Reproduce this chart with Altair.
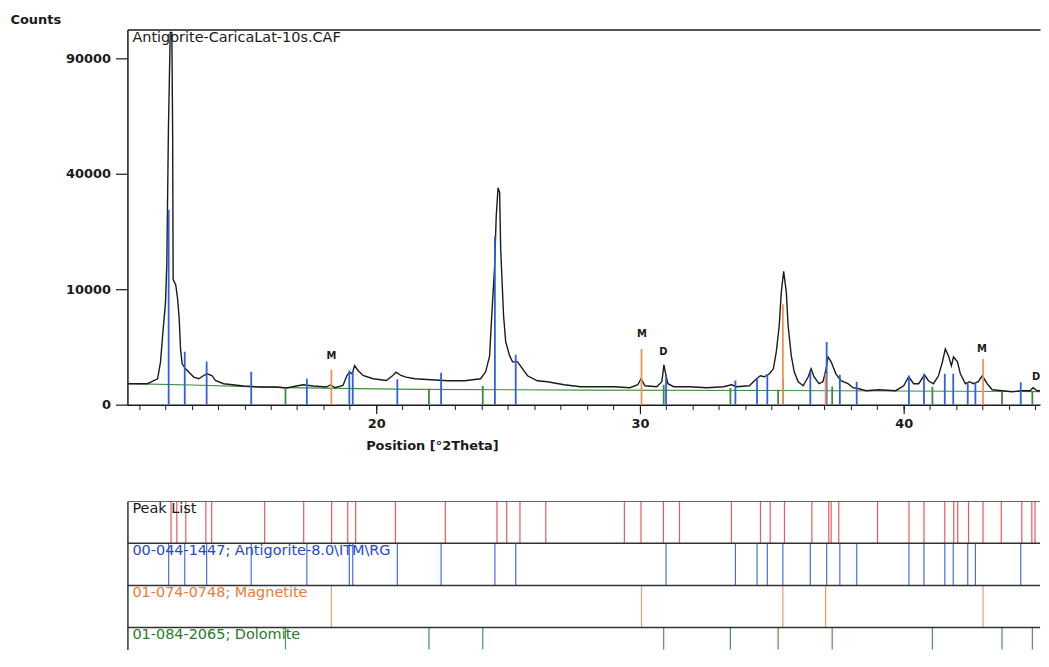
import altair as alt
import pandas as pd

FONT = "DejaVu Sans"

# ---- measured profile (Position [°2Theta], Counts) ----
prof_pos = [10.57, 11.32, 11.45, 11.71, 11.82, 11.90, 12.01, 12.06, 12.12, 12.19, 12.25, 12.28, 12.30,
            12.40, 12.47, 12.53, 12.58, 12.64, 12.77, 12.89, 13.08, 13.27, 13.46, 13.58, 13.77, 13.90,
            14.21, 14.97, 15.60, 16.23, 16.60, 16.98, 17.23, 17.61, 18.11, 18.28, 18.43, 18.74, 18.89,
            18.99, 19.09, 19.18, 19.31, 19.50, 19.88, 20.38, 20.63, 20.75, 20.94, 21.13, 21.47, 22.08,
            22.72, 23.36, 23.96, 24.15, 24.30, 24.38, 24.49, 24.55, 24.62, 24.68, 24.72, 24.83, 24.91,
            25.06, 25.17, 25.36, 25.55, 25.74, 26.11, 26.49, 27.13, 27.74, 28.38, 29.02, 29.62, 29.92,
            30.04, 30.19, 30.64, 30.83, 30.91, 30.96, 31.06, 31.28, 31.89, 32.53, 33.17, 33.47, 33.66,
            34.15, 34.42, 34.57, 34.72, 34.91, 35.06, 35.17, 35.28, 35.36, 35.45, 35.55, 35.62, 35.74,
            35.85, 36.00, 36.19, 36.38, 36.49, 36.60, 36.79, 36.94, 37.06, 37.13, 37.25, 37.43, 37.62,
            37.89, 38.08, 38.30, 38.57, 39.06, 39.70, 40.00, 40.19, 40.38, 40.57, 40.79, 40.94, 41.13,
            41.32, 41.47, 41.58, 41.70, 41.81, 41.89, 42.04, 42.15, 42.34, 42.49, 42.64, 42.83, 42.98,
            43.17, 43.36, 43.74, 44.11, 44.49, 44.79, 44.91, 45.06, 45.32]
prof_counts = [328, 328, 383, 502, 1355, 3538, 7838, 14775, 56610, 104000, 104000, 56610, 11798,
               10702, 8350, 5497, 2331, 1249, 963, 795, 570, 502, 638, 714, 638, 439,
               328, 260, 233, 233, 207, 260, 297, 260, 233, 297, 215, 277, 638,
               795, 714, 1148, 874, 638, 502, 439, 638, 795, 638, 570, 502, 464,
               428, 428, 502, 809, 1784, 5887, 14359, 26547, 35318, 33717, 18086, 5887, 2950,
               1784, 1374, 1374, 963, 625, 428, 393, 297, 241, 241, 241, 215, 297,
               502, 268, 241, 393, 1189, 809, 328, 241, 241, 215, 241, 297, 241,
               268, 502, 625, 583, 714, 963, 2088, 4638, 9490, 13345, 9490, 4638, 1784,
               809, 393, 268, 583, 963, 583, 328, 393, 963, 1712, 1374, 714, 428,
               328, 215, 190, 146, 167, 146, 268, 583, 328, 328, 669, 428, 328,
               625, 1374, 2331, 1784, 1130, 1712, 1374, 714, 328, 393, 328, 393, 625,
               328, 167, 146, 126, 146, 146, 215, 146, 146]

# background curve
bg_pos = [10.57, 13.0, 16.5, 21.5, 28.0, 35.0, 45.32]
bg_counts = [330, 290, 215, 175, 160, 150, 128]

# reference patterns: positions and stick heights (counts)
anti_pos = [12.13, 12.74, 13.57, 15.26, 17.37, 18.98, 19.11, 20.80, 22.46, 24.50, 25.29, 30.99, 33.62,
            34.44, 34.83, 35.42, 36.46, 37.08, 37.58, 38.22, 40.20, 40.77, 41.56, 41.88, 42.43, 42.72, 44.44]
anti_h = [28500, 2090, 1400, 810, 500, 880, 810, 480, 760, 21200, 1860, 625, 440,
          500, 690, 500, 860, 2950, 670, 393, 640, 714, 714, 714, 380, 380, 380]
mag_pos = [18.30, 30.06, 35.42, 37.04, 43.01]
mag_h = [910, 2330, 7580, 714, 1570]
dol_pos = [16.56, 22.00, 24.04, 30.90, 33.43, 35.24, 37.29, 41.09, 43.73, 44.88]
dol_h = [207, 190, 260, 297, 207, 167, 250, 241, 140, 140]
peak_pos = [12.22, 12.44, 12.78, 13.54, 13.76, 15.77, 17.25, 18.31, 18.92, 19.22, 20.73, 22.62, 24.58,
            24.95, 25.45, 26.43, 29.41, 30.04, 30.89, 31.50, 33.47, 34.57, 34.94, 35.48, 36.52, 37.16,
            37.25, 37.54, 39.01, 40.20, 40.77, 41.56, 41.90, 42.05, 42.46, 43.01, 43.70, 44.48, 44.86, 44.98]

# phase markers in the pattern
mark_text_vals = ["M", "M", "D", "M", "D"]
mark_pos = [18.30, 30.08, 30.89, 42.97, 45.02]
mark_counts = [1784, 3746, 2088, 2331, 583]

file_name = "Antigorite-CaricaLat-10s.CAF"

row_names = ["Peak List", "00-044-1447; Antigorite-8.0\\ITM\\RG", "01-074-0748; Magnetite",
             "01-084-2065; Dolomite"]
phases = ["Peak List", "Antigorite", "Magnetite", "Dolomite"]
stick_colors = ["#e5484d", "#2f5fe3", "#f59055", "#3b8a3b"]
text_colors = ["#1a1a1a", "#2448d8", "#f07a35", "#2a7a2a"]

X_DOMAIN = [10.566, 45.17]
Y_MAX = 105625
ROWS_SHOWN = 3.52

# ---- tables ----
prof = pd.DataFrame({"pos": prof_pos, "counts": prof_counts})
bg = pd.DataFrame({"pos": bg_pos, "counts": bg_counts})
sticks = pd.concat([
    pd.DataFrame({"pos": anti_pos, "counts": anti_h, "phase": "Antigorite"}),
    pd.DataFrame({"pos": dol_pos, "counts": dol_h, "phase": "Dolomite"}),
    pd.DataFrame({"pos": mag_pos, "counts": mag_h, "phase": "Magnetite"}),
], ignore_index=True)
sticks["base"] = 0
marks = pd.DataFrame({"pos": mark_pos, "counts": mark_counts, "label": mark_text_vals})
fname = pd.DataFrame({"label": [file_name]})

xs = alt.Scale(domain=X_DOMAIN, nice=False, zero=False)
ys = alt.Scale(type="sqrt", domain=[0, Y_MAX], nice=False, zero=True)
phase_color = alt.Scale(domain=phases, range=stick_colors)

INK = "#1a1a1a"

y_axis = alt.Axis(values=[0, 10000, 40000, 90000], format="d", tickSize=12, tickColor=INK,
                  tickWidth=1.2, domainColor=INK, domainWidth=1.5, labelFont=FONT, labelFontSize=13,
                  labelFontWeight="bold", labelColor=INK, labelPadding=5, grid=False,
                  title="Counts", titleFont=FONT, titleFontSize=13, titleFontWeight="bold",
                  titleColor=INK, titleAngle=0, titleAlign="left", titleBaseline="alphabetic",
                  titleX=-118, titleY=-6)
x_major = alt.Axis(orient="bottom", values=[20, 30, 40], format="d", tickSize=9, tickColor=INK,
                   tickWidth=1.2, domainColor=INK, domainWidth=1.5, labelFont=FONT, labelFontSize=13,
                   labelFontWeight="bold", labelColor=INK, labelPadding=4, grid=False,
                   title="Position [°2Theta]", titleFont=FONT, titleFontSize=13,
                   titleFontWeight="bold", titleColor=INK, titleX=306, titleY=41,
                   titleAlign="center", titleBaseline="middle")
x_minor = alt.Axis(orient="bottom", values=list(range(11, 46)), tickSize=5, tickColor=INK,
                   tickWidth=1, labels=False, domain=False, grid=False, title=None)
x_top = alt.Axis(orient="top", ticks=False, labels=False, domain=True, domainColor=INK,
                 domainWidth=1.5, grid=False, title=None)

bg_layer = alt.Chart(bg).mark_line(color="#3f8f3f", strokeWidth=1.2, clip=True).encode(
    x=alt.X("pos:Q", scale=xs, axis=x_major),
    y=alt.Y("counts:Q", scale=ys, axis=y_axis),
)
curve_layer = alt.Chart(prof).mark_line(color=INK, strokeWidth=1.4, clip=True).encode(
    x=alt.X("pos:Q", scale=xs, axis=x_minor),
    y=alt.Y("counts:Q", scale=ys, axis=y_axis),
)
stick_layer = alt.Chart(sticks).mark_rule(strokeWidth=1.8, clip=True).encode(
    x=alt.X("pos:Q", scale=xs, axis=x_top),
    y=alt.Y("counts:Q", scale=ys, axis=y_axis),
    y2=alt.Y2("base:Q"),
    color=alt.Color("phase:N", scale=phase_color, legend=None),
)
mark_layer = alt.Chart(marks).mark_text(font=FONT, fontSize=10, fontWeight="bold", color=INK,
                                        baseline="middle", align="center").encode(
    x=alt.X("pos:Q", scale=xs, axis=None),
    y=alt.Y("counts:Q", scale=ys, axis=y_axis),
    text="label:N",
)
fname_layer = alt.Chart(fname).mark_text(font=FONT, fontSize=14.5, color=INK, align="left",
                                         baseline="alphabetic").encode(
    x=alt.value(5), y=alt.value(13), text="label:N",
)

top = alt.layer(bg_layer, curve_layer, stick_layer, mark_layer, fname_layer).resolve_axis(
    x="independent").properties(width=917, height=377)

# ---- bottom reference-pattern panel ----
bottom_sticks = pd.concat([
    pd.DataFrame({"pos": peak_pos, "row": 0, "phase": "Peak List"}),
    pd.DataFrame({"pos": anti_pos, "row": 1, "phase": "Antigorite"}),
    pd.DataFrame({"pos": mag_pos, "row": 2, "phase": "Magnetite"}),
    pd.DataFrame({"pos": dol_pos, "row": 3, "phase": "Dolomite"}),
], ignore_index=True)
bottom_sticks["row1"] = bottom_sticks["row"] + 1
borders = pd.DataFrame({"row": [0, 1, 2, 3, 4]})
rows = pd.DataFrame({"row": [0, 1, 2, 3], "name": row_names})

rs = alt.Scale(domain=[0, ROWS_SHOWN], reverse=True, nice=False, zero=False)
left_axis = alt.Axis(domain=True, ticks=False, labels=False, grid=False, title=None,
                     domainColor="#333333", domainWidth=1.5)

b_sticks = alt.Chart(bottom_sticks).mark_rule(strokeWidth=1.2, opacity=0.9, clip=True).encode(
    x=alt.X("pos:Q", scale=xs, axis=None),
    y=alt.Y("row:Q", scale=rs, axis=left_axis),
    y2=alt.Y2("row1:Q"),
    color=alt.Color("phase:N", scale=phase_color, legend=None),
)
b_borders = alt.Chart(borders).mark_rule(color="#333333", strokeWidth=1.5, clip=True).encode(
    y=alt.Y("row:Q", scale=rs, axis=left_axis),
)
b_text = alt.Chart(rows).mark_text(font=FONT, fontSize=14.5, align="left", baseline="alphabetic",
                                   dx=5, dy=12).encode(
    x=alt.value(0),
    y=alt.Y("row:Q", scale=rs, axis=left_axis),
    text="name:N",
    color=alt.Color("name:N", scale=alt.Scale(domain=row_names, range=text_colors), legend=None),
)
bottom = alt.layer(b_sticks, b_borders, b_text).resolve_scale(color="independent").properties(
    width=917, height=149)

chart = alt.vconcat(top, bottom, spacing=49).properties(
    padding={"left": 2, "top": 4, "right": 0, "bottom": 0}
).configure_view(stroke=None)

chart.save("out.html", embed_options={"renderer": "svg", "actions": False})
